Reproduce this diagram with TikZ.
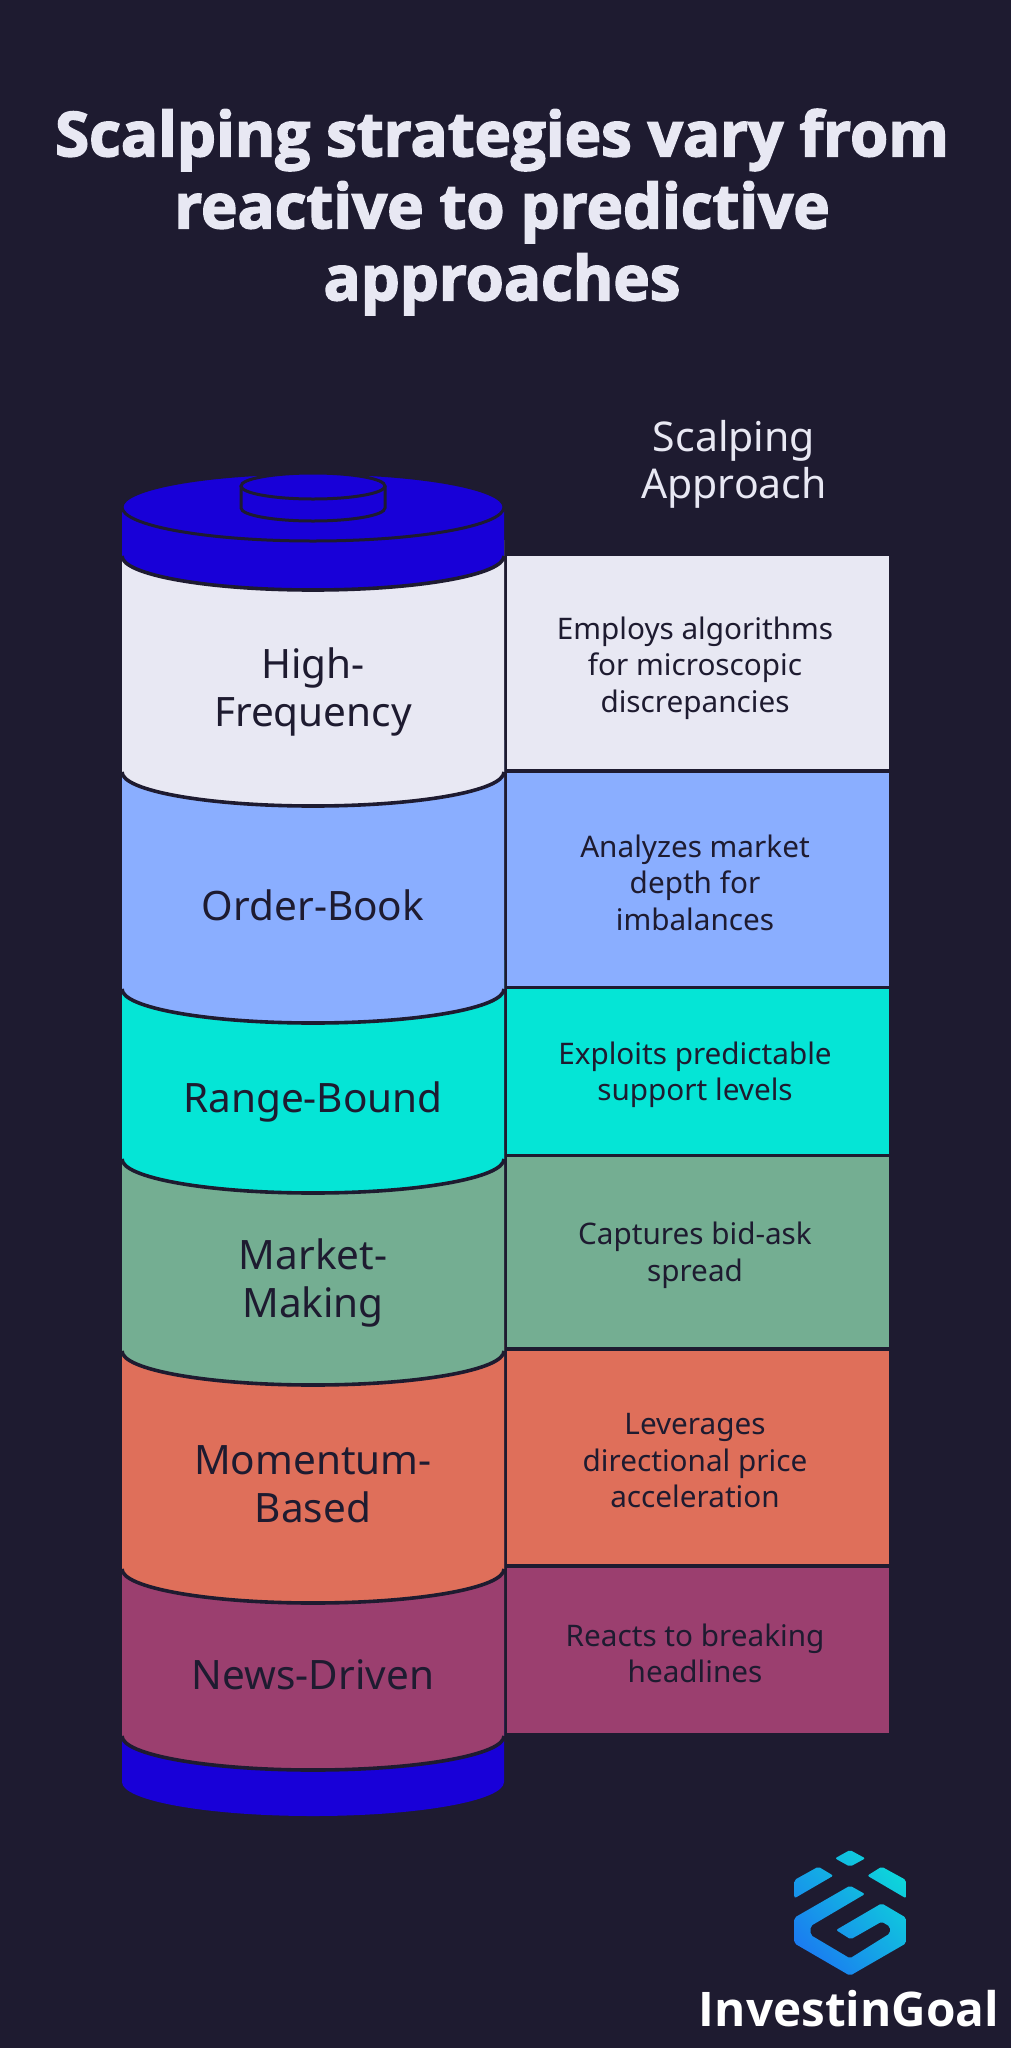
\documentclass[tikz,border=0pt]{standalone}
\usepackage{fontspec}
\usepackage{xcolor}
\usetikzlibrary{positioning,shadings}
\setmainfont{Noto Sans}
\newfontfamily\logofont{Open Sans}
\newfontfamily\titlefont[BoldFeatures={FakeBold=2.6}]{Open Sans}
\definecolor{bg}{HTML}{1E1B30}
\definecolor{capblue}{HTML}{1800D8}
\definecolor{paper}{HTML}{E8E8F3}
\definecolor{segb}{HTML}{8AAEFF}
\definecolor{segc}{HTML}{05E5D6}
\definecolor{segd}{HTML}{74AE92}
\definecolor{sege}{HTML}{DF6F5A}
\definecolor{segf}{HTML}{9B3F6F}
\definecolor{logoa}{HTML}{1D6AF5}
\definecolor{logob}{HTML}{0BE6D6}
\tikzset{
  edge/.style={draw=bg, line width=3.6pt},
  thin edge/.style={draw=bg, line width=3pt},
  rim/.style={x radius=191, y radius=34, start angle=180, end angle=0},
  pin/.style={x radius=72, y radius=13, start angle=180, end angle=0},
  title/.style={text=paper, font=\titlefont\fontsize{61.7}{72}\selectfont\bfseries, align=center},
  head/.style={text=paper, font=\fontsize{41}{47}\selectfont, align=center},
  seglab/.style={text=bg, font=\fontsize{40.5}{48}\selectfont, align=center},
  rowbox/.style={minimum width=382pt, inner sep=0pt, outer sep=0pt},
  rowlab/.style={text=bg, align=center, font=\fontsize{29.7}{36.5}\selectfont, shift={(-3pt,-3.5pt)}},
}
\begin{document}
\begin{tikzpicture}[x=1pt, y=-1pt]
\useasboundingbox[fill=bg] (0,0) rectangle (1011,2048);
\node[title] (heading) at (502,212) {Scalping strategies vary from\\reactive to predictive\\approaches};
\node[head] (rowhead) at (734,464) {Scalping\\Approach};

% cylinder, bottom up
\fill[capblue] (122,1700) -- (122,1782) arc[rim] -- (504,1700) -- cycle;
\foreach \yt/\yb/\col in {1530/1736/segf, 1340/1569/sege, 1150/1351/segd, 960/1159/segc, 740/989/segb, 540/772/paper}{
  \fill[\col] (122,\yt) -- (122,\yb) arc[rim] -- (504,\yt) -- cycle;
  \draw[edge] (122,\yb) arc[rim];
}
\fill[capblue] (122,507) -- (122,556) arc[rim] -- (504,507) -- cycle;
\draw[edge] (122,556) arc[rim];
\draw[thin edge, fill=capblue] (313,507) ellipse[x radius=191, y radius=34];
\fill[capblue] (241,486) -- (241,508) arc[pin] -- (385,486) -- cycle;
\draw[thin edge] (241,486) -- (241,508) arc[pin] -- (385,486);
\draw[thin edge, fill=capblue] (313,486) ellipse[x radius=72, y radius=13];

\node[seglab] (high) at (313,692) {High-\\Frequency};
\node[seglab] (order) at (313,905) {Order-Book};
\node[seglab] (range) at (313,1102) {Range-Bound};
\node[seglab] (market) at (313,1283) {Market-\\Making};
\node[seglab] (momentum) at (313,1484) {Momentum-\\Based};
\node[seglab] (news) at (313,1675) {News-Driven};

% right column
\node[rowbox, fill=paper, minimum height=213pt] (rowa) at (698,662.5) {};
\node[rowbox, fill=segb, minimum height=213pt, below=3.5pt of rowa] (rowb) {};
\node[rowbox, fill=segc, minimum height=164.5pt, below=3.5pt of rowb] (rowc) {};
\node[rowbox, fill=segd, minimum height=190pt, below=3.5pt of rowc] (rowd) {};
\node[rowbox, fill=sege, minimum height=213.5pt, below=3.5pt of rowd] (rowe) {};
\node[rowbox, fill=segf, minimum height=165pt, below=3.5pt of rowe] (rowf) {};
\node[rowlab, yshift=-2pt] (laba) at (rowa) {Employs algorithms\\for microscopic\\discrepancies};
\node[rowlab] (labb) at (rowb) {Analyzes market\\depth for\\imbalances};
\node[rowlab] (labc) at (rowc) {Exploits predictable\\support levels};
\node[rowlab] (labd) at (rowd) {Captures bid-ask\\spread};
\node[rowlab] (labe) at (rowe) {Leverages\\directional price\\acceleration};
\node[rowlab] (labf) at (rowf) {Reacts to breaking\\headlines};

% logo
\begin{scope}[shift={(680,1820)}, x=1/3*1pt, y=-1/3*1pt]
\clip[rounded corners=2pt] (510,90) -- (556,115) -- (510,140) -- (465,115) -- cycle
  (415,140) -- (460,167) -- (343,235) -- (343,180) -- cycle
  (605,140) -- (678,180) -- (678,235) -- (562,167) -- cycle
  (510,197) -- (555,222) -- (392,318) -- (392,345) -- (510,415) -- (630,340) -- (630,320) -- (605,305) -- (512,358) -- (468,330) -- (605,250) -- (678,293) -- (678,370) -- (510,467) -- (343,370) -- (343,293) -- cycle;
\shade[lower left=logoa, upper right=logob, lower right=logoa!50!logob, upper left=logoa!50!logob] (343,470) rectangle (678,90);
\end{scope}
\node[text=white, font=\logofont\fontsize{47.7}{48}\selectfont\bfseries] (brand) at (849,2009) {InvestinGoal};
\end{tikzpicture}
\end{document}
